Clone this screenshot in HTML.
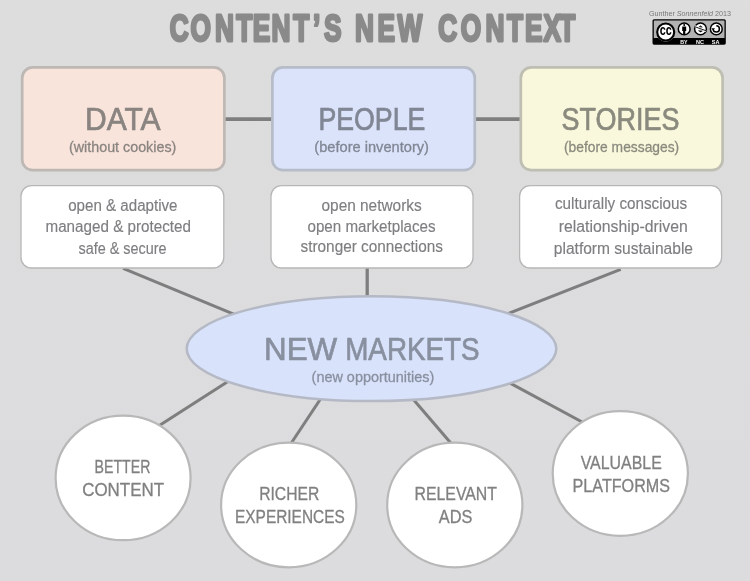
<!DOCTYPE html>
<html lang="en">
<head>
<meta charset="utf-8">
<title>Content's New Context</title>
<style>
html,body{margin:0;padding:0;background:#dcdcdd;}
body{width:750px;height:581px;overflow:hidden;}
svg{display:block;font-family:"Liberation Sans", sans-serif;will-change:transform;}
text{-webkit-font-smoothing:antialiased;}
</style>
</head>
<body>
<svg width="750" height="581" viewBox="0 0 750 581">
<defs>
<linearGradient id="bg" x1="0" y1="0" x2="0" y2="1"><stop offset="0" stop-color="#dddddd"/><stop offset="1" stop-color="#dcdbde"/></linearGradient>
</defs>
<rect x="0" y="0" width="750" height="581" fill="url(#bg)"/>
<line x1="224" y1="119.2" x2="273" y2="119.2" stroke="#7e7e7e" stroke-width="3.8"/>
<line x1="475" y1="119.2" x2="521" y2="119.2" stroke="#7e7e7e" stroke-width="3.8"/>
<line x1="123.1" y1="268.4" x2="250" y2="320.8" stroke="#7e7e7e" stroke-width="3"/>
<line x1="367.2" y1="268" x2="367.2" y2="299" stroke="#7e7e7e" stroke-width="3.3"/>
<line x1="620.7" y1="269.4" x2="495" y2="318.7" stroke="#7e7e7e" stroke-width="3"/>
<line x1="240" y1="373.8" x2="150" y2="431.4" stroke="#7e7e7e" stroke-width="3"/>
<line x1="325.8" y1="391" x2="288" y2="448" stroke="#7e7e7e" stroke-width="3"/>
<line x1="406.1" y1="391" x2="454" y2="446.8" stroke="#7e7e7e" stroke-width="3"/>
<line x1="500" y1="377.7" x2="590" y2="426.2" stroke="#7e7e7e" stroke-width="3"/>
<rect x="22.2" y="67.4" width="202.2" height="102.8" rx="10.5" ry="10.5" fill="#f9e4dc" stroke="#beb8b4" stroke-width="2.7"/>
<rect x="272.4" y="67.4" width="202.4" height="102.8" rx="10.5" ry="10.5" fill="#dae3f9" stroke="#b6bcc8" stroke-width="2.7"/>
<rect x="520.8" y="67.4" width="201.8" height="102.8" rx="10.5" ry="10.5" fill="#faf8dc" stroke="#bebeb2" stroke-width="2.7"/>
<rect x="21" y="185.6" width="202.8" height="82.4" rx="10.5" ry="10.5" fill="#ffffff" stroke="#b7b7b7" stroke-width="1.3"/>
<rect x="271" y="185.6" width="202.0" height="82.4" rx="10.5" ry="10.5" fill="#ffffff" stroke="#b7b7b7" stroke-width="1.3"/>
<rect x="519.6" y="185.6" width="202.0" height="82.4" rx="10.5" ry="10.5" fill="#ffffff" stroke="#b7b7b7" stroke-width="1.3"/>
<ellipse cx="371.5" cy="348.7" rx="184.8" ry="52.4" fill="#d8e2fa" stroke="#b4b9c5" stroke-width="2.5"/>
<ellipse cx="123.1" cy="477.9" rx="67.5" ry="62.3" fill="#ffffff" stroke="#b8b8b8" stroke-width="2.2"/>
<ellipse cx="288.7" cy="505" rx="67.6" ry="62.3" fill="#ffffff" stroke="#b8b8b8" stroke-width="2.2"/>
<ellipse cx="454.8" cy="505" rx="67.6" ry="62.3" fill="#ffffff" stroke="#b8b8b8" stroke-width="2.2"/>
<ellipse cx="620.3" cy="473.5" rx="67.6" ry="62.3" fill="#ffffff" stroke="#b8b8b8" stroke-width="2.2"/>
<text transform="translate(0,40.9) scale(0.71,1)" x="239.06 268.16 302.99 332.63 355.88 382.43 413.20 440.78 456.30 483.59 500.03 531.79 560.00 601.20 617.37 648.87 683.83 714.04 739.54 765.41 787.84" y="0" font-size="37" font-weight="bold" fill="#8a8a8a" stroke="#8a8a8a" stroke-width="2.8" stroke-linejoin="round">CONTENT’S NEW CONTEXT</text>
<text x="649.0" y="16.3" font-size="6.4" fill="#787878" font-weight="normal" textLength="82.0" lengthAdjust="spacingAndGlyphs">Gunther <tspan font-style="italic">Sonnenfeld</tspan> 2013</text>
<g>
<rect x="652.5" y="19.2" width="73.3" height="25.5" rx="1.6" ry="1.6" fill="#000"/>
<rect x="653.8" y="20.5" width="70.7" height="17.6" rx="0.6" fill="#b2b2b2"/>
<circle cx="665.7" cy="32" r="9.7" fill="#b2b2b2"/>
<circle cx="665.7" cy="32" r="8.5" fill="#fff" stroke="#000" stroke-width="2.1"/>
<text x="659.8" y="35.4" font-size="14" fill="#000" font-weight="bold" textLength="12.0" lengthAdjust="spacingAndGlyphs">cc</text>
<circle cx="684.2" cy="28.9" r="5.9" fill="#fff" stroke="#000" stroke-width="1.5"/>
<circle cx="700.5" cy="28.9" r="5.9" fill="#fff" stroke="#000" stroke-width="1.5"/>
<circle cx="716.3" cy="28.9" r="5.9" fill="#fff" stroke="#000" stroke-width="1.5"/>
<circle cx="684.2" cy="25.1" r="1" fill="#000"/>
<path d="M682.2 26.6h4v4.5h-0.9v3h-2.2v-3h-0.9z" fill="#000"/>
<text x="698.2" y="32.2" font-size="9" fill="#000" font-weight="bold" textLength="4.6" lengthAdjust="spacingAndGlyphs">$</text>
<path d="M694.8 26.2 L706 31.2" stroke="#fff" stroke-width="2" fill="none"/>
<path d="M694.6 26.6 L706.2 30.8" stroke="#000" stroke-width="0.9" fill="none"/>
<path d="M713.2 28.9 A3.1 3.1 0 1 0 716.3 25.8" fill="none" stroke="#000" stroke-width="1.5"/>
<path d="M711.4 28.2 h3.6 l-1.8 2.2 z" fill="#000"/>
<text x="680.2" y="43.8" font-size="5.5" fill="#fff" font-weight="bold" textLength="7.3" lengthAdjust="spacingAndGlyphs">BY</text>
<text x="696.1" y="43.8" font-size="5.5" fill="#fff" font-weight="bold" textLength="8.0" lengthAdjust="spacingAndGlyphs">NC</text>
<text x="711.8" y="43.8" font-size="5.5" fill="#fff" font-weight="bold" textLength="7.7" lengthAdjust="spacingAndGlyphs">SA</text>
</g>
<text x="85.0" y="129.8" font-size="31.5" fill="#8a8480" font-weight="normal" textLength="75.6" lengthAdjust="spacingAndGlyphs" stroke="#8a8480" stroke-width="0.7">DATA</text>
<text x="69.0" y="151.5" font-size="15" fill="#8a8480" font-weight="normal" textLength="107.3" lengthAdjust="spacingAndGlyphs" stroke="#8a8480" stroke-width="0.3">(without cookies)</text>
<text x="318.4" y="129.8" font-size="31.5" fill="#808694" font-weight="normal" textLength="107.0" lengthAdjust="spacingAndGlyphs" stroke="#808694" stroke-width="0.7">PEOPLE</text>
<text x="314.3" y="151.5" font-size="15" fill="#808694" font-weight="normal" textLength="114.7" lengthAdjust="spacingAndGlyphs" stroke="#808694" stroke-width="0.3">(before inventory)</text>
<text x="561.6" y="129.8" font-size="31.5" fill="#8a8a7e" font-weight="normal" textLength="117.8" lengthAdjust="spacingAndGlyphs" stroke="#8a8a7e" stroke-width="0.7">STORIES</text>
<text x="564.0" y="151.5" font-size="15" fill="#8a8a7e" font-weight="normal" textLength="115.2" lengthAdjust="spacingAndGlyphs" stroke="#8a8a7e" stroke-width="0.3">(before messages)</text>
<text x="68.2" y="210.7" font-size="16" fill="#7e7e80" font-weight="normal" textLength="109.3" lengthAdjust="spacingAndGlyphs" stroke="#7e7e80" stroke-width="0.15">open &amp; adaptive</text>
<text x="45.5" y="231.6" font-size="16" fill="#7e7e80" font-weight="normal" textLength="145.4" lengthAdjust="spacingAndGlyphs" stroke="#7e7e80" stroke-width="0.15">managed &amp; protected</text>
<text x="78.5" y="254.0" font-size="16" fill="#7e7e80" font-weight="normal" textLength="88.1" lengthAdjust="spacingAndGlyphs" stroke="#7e7e80" stroke-width="0.15">safe &amp; secure</text>
<text x="321.5" y="211.3" font-size="16" fill="#7e7e80" font-weight="normal" textLength="100.2" lengthAdjust="spacingAndGlyphs" stroke="#7e7e80" stroke-width="0.15">open networks</text>
<text x="307.5" y="231.6" font-size="16" fill="#7e7e80" font-weight="normal" textLength="128.0" lengthAdjust="spacingAndGlyphs" stroke="#7e7e80" stroke-width="0.15">open marketplaces</text>
<text x="300.5" y="252.3" font-size="16" fill="#7e7e80" font-weight="normal" textLength="142.5" lengthAdjust="spacingAndGlyphs" stroke="#7e7e80" stroke-width="0.15">stronger connections</text>
<text x="555.0" y="208.8" font-size="16" fill="#7e7e80" font-weight="normal" textLength="132.2" lengthAdjust="spacingAndGlyphs" stroke="#7e7e80" stroke-width="0.15">culturally conscious</text>
<text x="558.8" y="231.6" font-size="16" fill="#7e7e80" font-weight="normal" textLength="129.0" lengthAdjust="spacingAndGlyphs" stroke="#7e7e80" stroke-width="0.15">relationship-driven</text>
<text x="553.8" y="254.0" font-size="16" fill="#7e7e80" font-weight="normal" textLength="139.2" lengthAdjust="spacingAndGlyphs" stroke="#7e7e80" stroke-width="0.15">platform sustainable</text>
<text x="264.0" y="359.8" font-size="32" fill="#8890a0" font-weight="normal" textLength="73.2" lengthAdjust="spacingAndGlyphs" stroke="#8890a0" stroke-width="0.7">NEW</text>
<text x="345.2" y="359.8" font-size="32" fill="#8890a0" font-weight="normal" textLength="134.4" lengthAdjust="spacingAndGlyphs" stroke="#8890a0" stroke-width="0.7">MARKETS</text>
<text x="311.6" y="381.8" font-size="15" fill="#8890a0" font-weight="normal" textLength="122.7" lengthAdjust="spacingAndGlyphs" stroke="#8890a0" stroke-width="0.3">(new opportunities)</text>
<text x="94.6" y="473.2" font-size="18" fill="#808080" font-weight="normal" textLength="55.8" lengthAdjust="spacingAndGlyphs" stroke="#808080" stroke-width="0.3">BETTER</text>
<text x="82.2" y="496.2" font-size="18" fill="#808080" font-weight="normal" textLength="81.8" lengthAdjust="spacingAndGlyphs" stroke="#808080" stroke-width="0.3">CONTENT</text>
<text x="259.2" y="499.7" font-size="18" fill="#808080" font-weight="normal" textLength="60.1" lengthAdjust="spacingAndGlyphs" stroke="#808080" stroke-width="0.3">RICHER</text>
<text x="235.0" y="523.0" font-size="18" fill="#808080" font-weight="normal" textLength="109.8" lengthAdjust="spacingAndGlyphs" stroke="#808080" stroke-width="0.3">EXPERIENCES</text>
<text x="414.5" y="499.7" font-size="18" fill="#808080" font-weight="normal" textLength="82.5" lengthAdjust="spacingAndGlyphs" stroke="#808080" stroke-width="0.3">RELEVANT</text>
<text x="438.8" y="523.0" font-size="18" fill="#808080" font-weight="normal" textLength="33.5" lengthAdjust="spacingAndGlyphs" stroke="#808080" stroke-width="0.3">ADS</text>
<text x="580.7" y="468.7" font-size="18" fill="#808080" font-weight="normal" textLength="81.1" lengthAdjust="spacingAndGlyphs" stroke="#808080" stroke-width="0.3">VALUABLE</text>
<text x="572.6" y="491.6" font-size="18" fill="#808080" font-weight="normal" textLength="97.4" lengthAdjust="spacingAndGlyphs" stroke="#808080" stroke-width="0.3">PLATFORMS</text>
</svg>
</body>
</html>
